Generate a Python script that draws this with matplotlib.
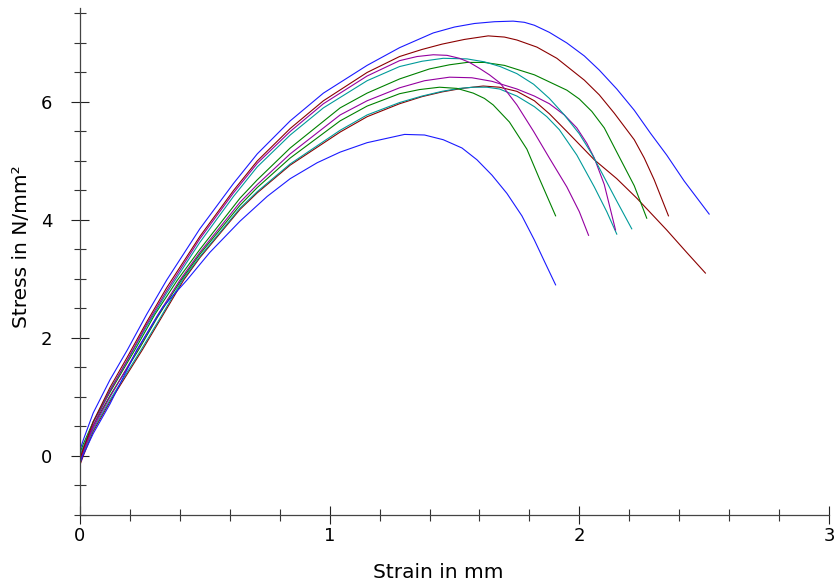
import matplotlib
matplotlib.use("Agg")
import matplotlib.pyplot as plt
from matplotlib.ticker import MultipleLocator

plt.rcParams['font.family'] = ['DejaVu Sans']

# stress-strain curves (strain in mm, stress in N/mm²)
blue_a_x = [0, 0.013, 0.053, 0.12, 0.19, 0.267, 0.347, 0.48, 0.615, 0.71, 0.842, 0.975, 1.15, 1.28,
            1.415, 1.5, 1.58, 1.66, 1.735, 1.78, 1.82, 1.88, 1.95, 2.02, 2.08, 2.15, 2.22, 2.285,
            2.35, 2.42, 2.47, 2.52]
blue_a_y = [0.1, 0.27, 0.73, 1.29, 1.8, 2.4, 2.98, 3.85, 4.62, 5.12, 5.68, 6.15, 6.62, 6.92,
            7.17, 7.27, 7.33, 7.36, 7.37, 7.35, 7.3, 7.18, 7.0, 6.78, 6.54, 6.22, 5.86, 5.47,
            5.1, 4.66, 4.38, 4.10]

red_a_x = [0, 0.013, 0.053, 0.12, 0.19, 0.267, 0.347, 0.48, 0.615, 0.71, 0.842, 0.975, 1.15, 1.28,
           1.37, 1.45, 1.54, 1.635, 1.7, 1.75, 1.83, 1.91, 2.02, 2.08, 2.14, 2.22, 2.26, 2.3, 2.357]
red_a_y = [-0.05, 0.12, 0.58, 1.16, 1.68, 2.27, 2.85, 3.72, 4.5, 5.0, 5.55, 6.02, 6.5, 6.77,
           6.89, 6.98, 7.06, 7.12, 7.1, 7.05, 6.93, 6.74, 6.37, 6.12, 5.81, 5.36, 5.05, 4.68, 4.07]

purple_a_x = [0, 0.013, 0.053, 0.12, 0.19, 0.267, 0.347, 0.48, 0.615, 0.71, 0.842, 0.975, 1.15, 1.28,
              1.35, 1.415, 1.47, 1.52, 1.56, 1.60, 1.64, 1.683, 1.75, 1.817, 1.88, 1.95, 2.0, 2.037]
purple_a_y = [-0.1, 0.08, 0.52, 1.1, 1.63, 2.23, 2.8, 3.68, 4.46, 4.96, 5.5, 5.97, 6.44, 6.70,
              6.77, 6.80, 6.79, 6.74, 6.67, 6.57, 6.46, 6.32, 5.95, 5.5, 5.05, 4.56, 4.14, 3.74]

cyan_a_x = [0, 0.013, 0.053, 0.12, 0.19, 0.267, 0.347, 0.48, 0.615, 0.71, 0.842, 0.975, 1.15, 1.28,
            1.37, 1.455, 1.55, 1.62, 1.683, 1.75, 1.817, 1.88, 1.94, 2.0, 2.05, 2.1, 2.15, 2.21]
cyan_a_y = [0.0, 0.15, 0.58, 1.12, 1.62, 2.2, 2.76, 3.62, 4.4, 4.9, 5.44, 5.9, 6.36, 6.60,
            6.69, 6.74, 6.73, 6.68, 6.6, 6.48, 6.3, 6.06, 5.78, 5.46, 5.12, 4.72, 4.32, 3.85]

green_a_x = [0, 0.013, 0.053, 0.12, 0.22, 0.3, 0.39, 0.48, 0.641, 0.71, 0.842, 1.042, 1.15, 1.28,
             1.4, 1.48, 1.55, 1.62, 1.7, 1.82, 1.9, 1.95, 2.0, 2.05, 2.1, 2.15, 2.22, 2.27]
green_a_y = [0.05, 0.2, 0.58, 1.08, 1.8, 2.4, 2.98, 3.5, 4.37, 4.68, 5.22, 5.90, 6.15, 6.39,
             6.56, 6.63, 6.67, 6.67, 6.62, 6.46, 6.3, 6.2, 6.05, 5.84, 5.56, 5.15, 4.58, 4.03]

purple_b_x = [0, 0.013, 0.053, 0.12, 0.23, 0.31, 0.40, 0.48, 0.641, 0.71, 0.842, 1.042, 1.15, 1.28,
              1.38, 1.48, 1.57, 1.65, 1.75, 1.82, 1.88, 1.94, 1.99, 2.03, 2.06, 2.10, 2.145]
purple_b_y = [-0.1, 0.08, 0.48, 1.0, 1.8, 2.38, 2.98, 3.45, 4.3, 4.6, 5.12, 5.78, 6.02, 6.24,
              6.36, 6.42, 6.41, 6.35, 6.22, 6.1, 5.97, 5.78, 5.56, 5.3, 5.05, 4.6, 3.83]

green_b_x = [0, 0.013, 0.053, 0.12, 0.235, 0.31, 0.405, 0.48, 0.641, 0.71, 0.842, 1.042, 1.15, 1.28,
             1.36, 1.44, 1.51, 1.575, 1.62, 1.655, 1.72, 1.79, 1.84, 1.905]
green_b_y = [-0.05, 0.12, 0.52, 1.02, 1.8, 2.35, 2.98, 3.42, 4.25, 4.55, 5.05, 5.68, 5.93, 6.14,
             6.21, 6.25, 6.23, 6.15, 6.06, 5.95, 5.66, 5.2, 4.7, 4.07]

cyan_b_x = [0, 0.013, 0.053, 0.12, 0.245, 0.32, 0.41, 0.48, 0.641, 0.71, 0.842, 1.042, 1.15, 1.28,
            1.37, 1.45, 1.52, 1.575, 1.63, 1.68, 1.75, 1.82, 1.87, 1.92, 1.99, 2.06, 2.11, 2.15]
cyan_b_y = [-0.1, 0.05, 0.45, 0.95, 1.8, 2.33, 2.98, 3.38, 4.2, 4.48, 4.95, 5.52, 5.78, 5.99,
            6.1, 6.18, 6.23, 6.25, 6.25, 6.22, 6.1, 5.92, 5.75, 5.53, 5.1, 4.56, 4.14, 3.76]

red_b_x = [0, 0.013, 0.053, 0.12, 0.25, 0.32, 0.415, 0.48, 0.641, 0.71, 0.842, 1.042, 1.15, 1.28,
           1.37, 1.45, 1.53, 1.615, 1.68, 1.75, 1.82, 1.88, 1.95, 2.06, 2.15, 2.23, 2.35, 2.43, 2.505]
red_b_y = [-0.15, 0.0, 0.42, 0.92, 1.8, 2.3, 2.98, 3.36, 4.18, 4.46, 4.93, 5.49, 5.75, 5.97,
           6.09, 6.17, 6.23, 6.27, 6.25, 6.18, 6.02, 5.8, 5.5, 5.02, 4.7, 4.37, 3.83, 3.45, 3.10]

blue_b_x = [0, 0.013, 0.053, 0.12, 0.228, 0.333, 0.428, 0.52, 0.641, 0.75, 0.842, 0.95, 1.042, 1.15,
            1.3, 1.38, 1.455, 1.53, 1.59, 1.65, 1.71, 1.77, 1.82, 1.86, 1.905]
blue_b_y = [-0.12, 0.02, 0.38, 0.88, 1.8, 2.53, 2.98, 3.45, 3.98, 4.4, 4.7, 4.97, 5.15, 5.31,
            5.45, 5.44, 5.36, 5.22, 5.02, 4.76, 4.45, 4.07, 3.66, 3.3, 2.90]

curves = [
    (red_b_x, red_b_y, "#8b0000"),
    (cyan_b_x, cyan_b_y, "#009a9a"),
    (green_b_x, green_b_y, "#008000"),
    (purple_b_x, purple_b_y, "#9400a0"),
    (green_a_x, green_a_y, "#008000"),
    (cyan_a_x, cyan_a_y, "#009a9a"),
    (purple_a_x, purple_a_y, "#9400a0"),
    (red_a_x, red_a_y, "#8b0000"),
    (blue_b_x, blue_b_y, "#1a1aff"),
    (blue_a_x, blue_a_y, "#1a1aff"),
]

fig = plt.figure(figsize=(8.35, 5.86), dpi=100)
ax = fig.add_axes([0.0958, 0.1212, 0.897, 0.8659])

for xs, ys, col in curves:
    ax.plot(xs, ys, color=col, lw=0.8)

ax.set_xlim(0, 3)
ax.set_ylim(-1, 7.6)
ax.spines['top'].set_visible(False)
ax.spines['right'].set_visible(False)
for s in ['left', 'bottom']:
    ax.spines[s].set_color('#444444')
    ax.spines[s].set_linewidth(0.9)

ax.xaxis.set_major_locator(MultipleLocator(1))
ax.xaxis.set_minor_locator(MultipleLocator(0.2))
ax.yaxis.set_major_locator(MultipleLocator(2))
ax.yaxis.set_minor_locator(MultipleLocator(0.5))
ax.tick_params(which='major', direction='inout', length=13.5, width=0.8, color='#222222', labelsize=13)
ax.tick_params(which='minor', direction='inout', length=9, width=0.8, color='#333333')
ax.tick_params(axis='x', which='major', pad=2)
ax.tick_params(axis='y', which='major', pad=13)

ax.set_xlabel("Strain in mm", fontsize=14.5)
ax.set_ylabel("Stress in N/mm²", fontsize=14.5)
ax.xaxis.set_label_coords(0.478, -0.0946)
ax.yaxis.set_label_coords(-0.0654, 0.528)

fig.savefig("out.png", dpi=100)
